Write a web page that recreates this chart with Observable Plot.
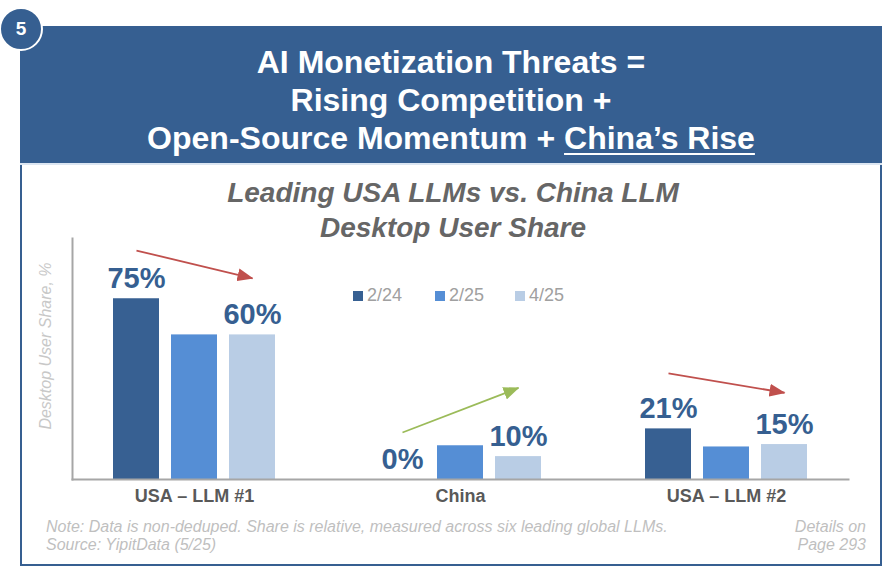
<!DOCTYPE html>
<html><head><meta charset="utf-8">
<script src="https://cdn.jsdelivr.net/npm/d3@7"></script>
<script src="https://cdn.jsdelivr.net/npm/@observablehq/plot@0.6"></script>
<style>
body{margin:0;background:#fff;font-family:"Liberation Sans",Arial,sans-serif;}
#page{position:relative;width:885px;height:570px;overflow:hidden;background:#fff;}
#box{position:absolute;left:20px;top:26px;width:862px;height:540px;box-sizing:border-box;border:2px solid #365f91;}
#header{position:absolute;left:20px;top:26px;width:862px;height:139px;background:#365f91;border-bottom:2px solid #dce6f2;box-sizing:border-box;
  color:#fff;font-weight:bold;font-size:32px;line-height:38px;text-align:center;padding-top:17px;}
#header u{text-decoration-thickness:2px;text-underline-offset:4px;}
#badge{position:absolute;left:-1px;top:7px;width:40px;height:40px;border-radius:50%;background:#365f91;border:2px solid #fff;
  color:#fff;font-weight:bold;font-size:19px;line-height:40px;text-align:center;}
#sub{position:absolute;left:20px;width:866px;top:175px;text-align:center;color:#666;font-weight:bold;font-style:italic;font-size:28px;line-height:35px;}
#legend{position:absolute;top:283px;left:0;height:24px;}
.li{position:absolute;top:0;white-space:nowrap;color:#a0a0a0;font-size:18px;line-height:24px;}
.li span{display:inline-block;width:10px;height:10px;margin-right:4px;vertical-align:0px;}
#ylab{position:absolute;left:46px;top:346px;transform:translate(-50%,-50%) rotate(-90deg);white-space:nowrap;color:#c8c8c8;font-style:italic;font-size:16px;}
#chart{position:absolute;left:0;top:230px;}
.foot{position:absolute;color:#bfbfbf;font-style:italic;font-size:16px;line-height:18px;}
</style></head>
<body><div id="page">
<div id="box"></div>
<div id="header">AI Monetization Threats =<br>Rising Competition +<br>Open-Source Momentum + <u>China’s Rise</u></div>
<div id="badge">5</div>
<div id="sub">Leading USA LLMs vs. China LLM<br>Desktop User Share</div>
<div id="ylab">Desktop User Share, %</div>
<div id="chart"></div>
<div id="legend"></div>
<div class="foot" style="left:46px;top:518px;">Note: Data is non-deduped. Share is relative, measured across six leading global LLMs.<br>Source: YipitData (5/25)</div>
<div class="foot" style="right:19px;top:518px;text-align:right;">Details on<br>Page 293</div>
</div>
<script>
// ---- data ----
const groups = ["USA – LLM #1", "China", "USA – LLM #2"];
const periods = ["2/24", "2/25", "4/25"];
const share_2_24 = [75, 0, 21];
const share_2_25 = [60, 14, 13.5];
const share_4_25 = [60, 9.5, 14.5];
const labeledPeriods = ["2/24", "4/25"];
const labelText = {"USA – LLM #1": ["75%", "60%"], "China": ["0%", "10%"], "USA – LLM #2": ["21%", "15%"]};
const barColors = ["#376092", "#558ED5", "#B9CDE5"];
// trend arrows (per group): start / end heights in % units
const arrowFrom = ["2/24", "2/24", "2/24"];
const arrowTo = ["4/25", "4/25", "4/25"];
const arrowStart = [95, 19.5, 44];
const arrowEnd = [83.5, 38, 36];
const arrowTrend = ["down", "up", "down"];
const trendColors = ["#C0504D", "#9BBB59"];

const series = [share_2_24, share_2_25, share_4_25];
const rows = groups.flatMap((g, i) => periods.map((p, j) => ({group: g, period: p, value: series[j][i]})));
const labelRows = rows.filter(d => labeledPeriods.includes(d.period))
  .map(d => ({...d, label: labelText[d.group][labeledPeriods.indexOf(d.period)]}));
const arrows = groups.map((g, i) => ({group: g, from: arrowFrom[i], to: arrowTo[i], y1: arrowStart[i], y2: arrowEnd[i], trend: arrowTrend[i]}));

function triHead(color, context) {
  const doc = (context && context.document) || document;
  const ns = "http://www.w3.org/2000/svg";
  const m = doc.createElementNS(ns, "marker");
  m.setAttribute("viewBox", "0 0 16 13");
  m.setAttribute("markerWidth", 16);
  m.setAttribute("markerHeight", 13);
  m.setAttribute("refX", 15);
  m.setAttribute("refY", 6.5);
  m.setAttribute("orient", "auto");
  m.setAttribute("markerUnits", "userSpaceOnUse");
  const p = doc.createElementNS(ns, "path");
  p.setAttribute("d", "M0,0L16,6.5L0,13Z");
  p.setAttribute("fill", color);
  p.setAttribute("stroke", "none");
  m.appendChild(p);
  return m;
}

const chart = Plot.plot({
  width: 885, height: 280,
  marginLeft: 72, marginRight: 37, marginTop: 8, marginBottom: 31,
  style: {fontFamily: "'Liberation Sans', Arial, sans-serif", background: "transparent", overflow: "visible"},
  fx: {domain: groups, paddingInner: 0.083, paddingOuter: 0, label: null, axis: null},
  x: {domain: periods, paddingInner: 0.2, paddingOuter: 0.67, axis: null},
  y: {domain: [0, 100], axis: null},
  color: {domain: [...periods, "down", "up"], range: [...barColors, ...trendColors]},
  marks: [
    Plot.barY(rows, {fx: "group", x: "period", y: "value", fill: "period"}),
    Plot.frame({anchor: "left", facet: "super", stroke: "#a6a6a6", strokeWidth: 2}),
    Plot.frame({anchor: "bottom", facet: "super", stroke: "#a6a6a6", strokeWidth: 2}),
    Plot.text(labelRows, {
      fx: "group", x: "period", y: "value", text: "label",
      dy: -20, fontSize: 29, fontWeight: "bold", fill: "#365f91"
    }),
    Plot.link(arrows, {fx: "group", x1: "from", x2: "to", y1: "y1", y2: "y2", stroke: "trend", strokeWidth: 1.8, markerEnd: triHead}),
    Plot.axisFx({anchor: "bottom", tickSize: 0, tickPadding: 10, fontSize: 18, fontWeight: "bold", fill: "#595959", label: null})
  ]
});
document.getElementById("chart").appendChild(chart);

// legend
const legendX = [353, 435, 515];
const legend = document.getElementById("legend");
periods.forEach((p, i) => {
  const el = document.createElement("div");
  el.className = "li";
  el.style.left = legendX[i] + "px";
  el.innerHTML = `<span style="background:${barColors[i]}"></span>${p}`;
  legend.appendChild(el);
});
</script>
</body></html>
